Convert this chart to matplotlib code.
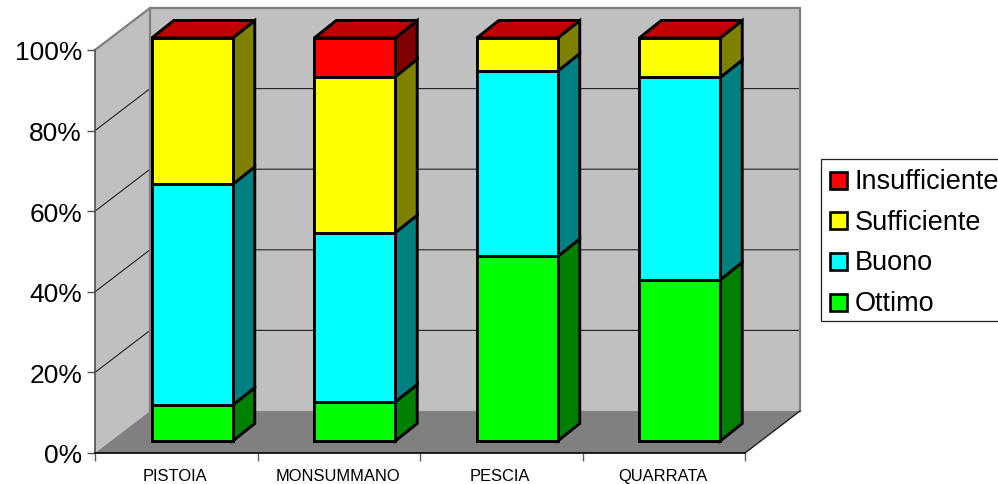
import matplotlib
matplotlib.use("Agg")
import numpy as np
import matplotlib.pyplot as plt
from matplotlib.patches import Polygon, Rectangle

plt.rcParams['font.family'] = ['Liberation Sans', 'DejaVu Sans']

# Percent share of each rating per town
towns = ['PISTOIA', 'MONSUMMANO', 'PESCIA', 'QUARRATA']
ottimo = [8.9, 9.7, 45.8, 40.0]
buono = [54.8, 42.0, 46.0, 50.2]
sufficiente = [36.3, 38.7, 8.2, 9.8]
insufficiente = [0.0, 9.6, 0.0, 0.0]

series_names = ['Ottimo', 'Buono', 'Sufficiente', 'Insufficiente']
front_colors = ['#00FF00', '#00FFFF', '#FFFF00', '#FF0000']
side_colors = ['#008000', '#008080', '#808000', '#800000']
top_color = '#C00000'
y_ticks = [0, 20, 40, 60, 80, 100]

W, H = 998, 485
fig = plt.figure(figsize=(W / 100, H / 100), dpi=100, facecolor='white')

# Front plane of the fake 3D box, all depth offsets are worked out from it
x0, x1, y0, y1 = 95, 745, 454, 51
ax = fig.add_axes([x0 / W, 1 - y0 / H, (x1 - x0) / W, (y0 - y1) / H])
ax.set_xlim(0, len(towns))
ax.set_ylim(0, 100)

px_x = len(towns) / (x1 - x0)
px_y = 100 / (y0 - y1)
wall_dx, wall_dy = 55 * px_x, 42 * px_y
bar_dx, bar_dy = 16 * px_x, 12 * px_y
depth_dx, depth_dy = 22 * px_x, 17.5 * px_y
bar_w = 81 * px_x
n = len(towns)

# Walls and floor
ax.add_patch(Polygon([(0, 0), (wall_dx, wall_dy), (wall_dx, 100 + wall_dy), (0, 100)],
                     fc='#C0C0C0', ec='none', clip_on=False, zorder=1))
ax.add_patch(Rectangle((wall_dx, wall_dy), n, 100, fc='#C0C0C0', ec='none', clip_on=False, zorder=1))
ax.add_patch(Polygon([(0, 0), (n, 0), (n + wall_dx, wall_dy), (wall_dx, wall_dy)],
                     fc='#808080', ec='none', clip_on=False, zorder=1.1))

# Gridlines run along the left wall and then across the back wall
for t in y_ticks[1:-1]:
    ax.plot([0, wall_dx, n + wall_dx], [t, t + wall_dy, t + wall_dy],
            color='#202020', lw=0.8, clip_on=False, zorder=1.2)

# Wall outline
ax.plot([0, wall_dx, n + wall_dx, n + wall_dx], [100, 100 + wall_dy, 100 + wall_dy, wall_dy],
        color='#808080', lw=1.6, clip_on=False, zorder=1.3, solid_joinstyle='miter')
ax.plot([wall_dx, wall_dx], [wall_dy, 100 + wall_dy], color='#808080', lw=1.6, clip_on=False, zorder=1.3)
ax.plot([n, n + wall_dx], [0, wall_dy], color='#202020', lw=1.0, clip_on=False, zorder=1.3)

# Stacked columns: front face, side face, and a lid on the last series
values = np.array([ottimo, buono, sufficiente, insufficiente])
bottoms = np.zeros(n)
centers = np.arange(n) + 0.5 + bar_dx
edge = dict(edgecolor='black', linewidth=2.1, joinstyle='miter', clip_on=False)
for k, vals in enumerate(values):
    tops = bottoms + vals
    for i in range(n):
        right = centers[i] + bar_w / 2
        b = bottoms[i] + bar_dy
        t = tops[i] + bar_dy
        if vals[i] > 0:
            ax.add_patch(Polygon([(right, b), (right + depth_dx, b + depth_dy),
                                  (right + depth_dx, t + depth_dy), (right, t)],
                                 facecolor=side_colors[k], zorder=3, **edge))
        if k == len(values) - 1:
            left = centers[i] - bar_w / 2
            ax.add_patch(Polygon([(left, t), (right, t), (right + depth_dx, t + depth_dy),
                                  (left + depth_dx, t + depth_dy)],
                                 facecolor=top_color, zorder=3, **edge))
    ax.bar(centers[vals > 0], vals[vals > 0], bottom=bottoms[vals > 0] + bar_dy, width=bar_w,
           color=front_colors[k], zorder=4, **edge)
    bottoms = tops

ax.set_xlim(0, n)
ax.set_ylim(0, 100)
ax.patch.set_visible(False)

# Axes
for s in ['top', 'right']:
    ax.spines[s].set_visible(False)
ax.spines['left'].set_color('#505050')
ax.spines['left'].set_linewidth(1.2)
ax.spines['bottom'].set_color('black')
ax.spines['bottom'].set_linewidth(1.2)
ax.spines['left'].set_zorder(2)
ax.spines['bottom'].set_zorder(2)

ax.set_yticks(y_ticks)
ax.set_yticklabels([f'{t}%' for t in y_ticks], fontsize=19, color='black')
ax.tick_params(axis='y', length=5.8, width=1.0, color='#505050', pad=3.5)
ax.set_xticks(np.arange(n + 1))
ax.set_xticklabels([])
ax.set_xticks(np.arange(n) + 0.5 - 1.2 * px_x, minor=True)
ax.set_xticklabels(towns, minor=True, fontsize=11.9, color='black')
ax.tick_params(axis='x', which='major', length=6, width=1.0, color='#606060')
ax.tick_params(axis='x', which='minor', length=0, pad=10.7)

# Legend box, it runs off the right edge of the figure
ov = fig.add_axes([0, 0, 1, 1], zorder=5)
ov.set_xlim(0, W)
ov.set_ylim(H, 0)
ov.axis('off')
ov.add_patch(Rectangle((821.5, 160), 200, 161.5, fc='white', ec='#202020', lw=0.9))
legend_y = [303, 262, 221.5, 181]
for name, c, ly in zip(series_names, front_colors, legend_y):
    ov.add_patch(Rectangle((830.5, ly - 8.5), 17, 17, fc=c, ec='black', lw=1.9))
    ov.text(855, ly + 1.5, name, fontsize=19.5, va='center', ha='left', color='black')

fig.savefig('out.png', dpi=100, facecolor='white')
